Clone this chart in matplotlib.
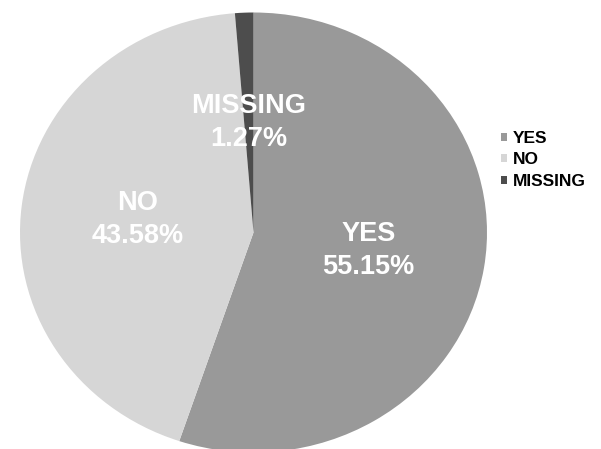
import matplotlib
matplotlib.use('Agg')
import matplotlib.pyplot as plt

labels = ['YES', 'NO', 'MISSING']
values = [55.15, 43.58, 1.27]
colors = ['#999999', '#d6d6d6', '#4d4d4d']

plt.rcParams['font.family'] = ['Liberation Sans', 'DejaVu Sans']

fig = plt.figure(figsize=[6.01, 4.49], dpi=100)
# pie is slightly wider than tall in the reference
ax = fig.add_axes([20 / 601, (449 - 452.5) / 449, 467 / 601, 440 / 449])

wedges, texts, autotexts = ax.pie(values, colors=colors, startangle=90, counterclock=False,
                                  autopct='%.2f%%', pctdistance=0.5,
                                  wedgeprops={'linewidth': 0})
for t, lab in zip(autotexts, labels):
    t.set_text(lab + '\n' + t.get_text())
    t.set_color('white')
    t.set_fontsize(19.5)
    t.set_fontweight('bold')
    t.set_ha('center')
    t.set_va('center')
    t.set_linespacing(1.35)

ax.set_aspect('auto')
ax.set_xlim(-1, 1)
ax.set_ylim(-1, 1)

fig.legend(wedges, labels, loc='center left', bbox_to_anchor=(501 / 601, (449 - 160) / 449),
           frameon=False, prop={'weight': 'bold', 'size': 12.5},
           handlelength=0.35, handleheight=0.35, handletextpad=0.35,
           labelspacing=0.38, borderpad=0, borderaxespad=0)

fig.savefig('out.png', dpi=100)
